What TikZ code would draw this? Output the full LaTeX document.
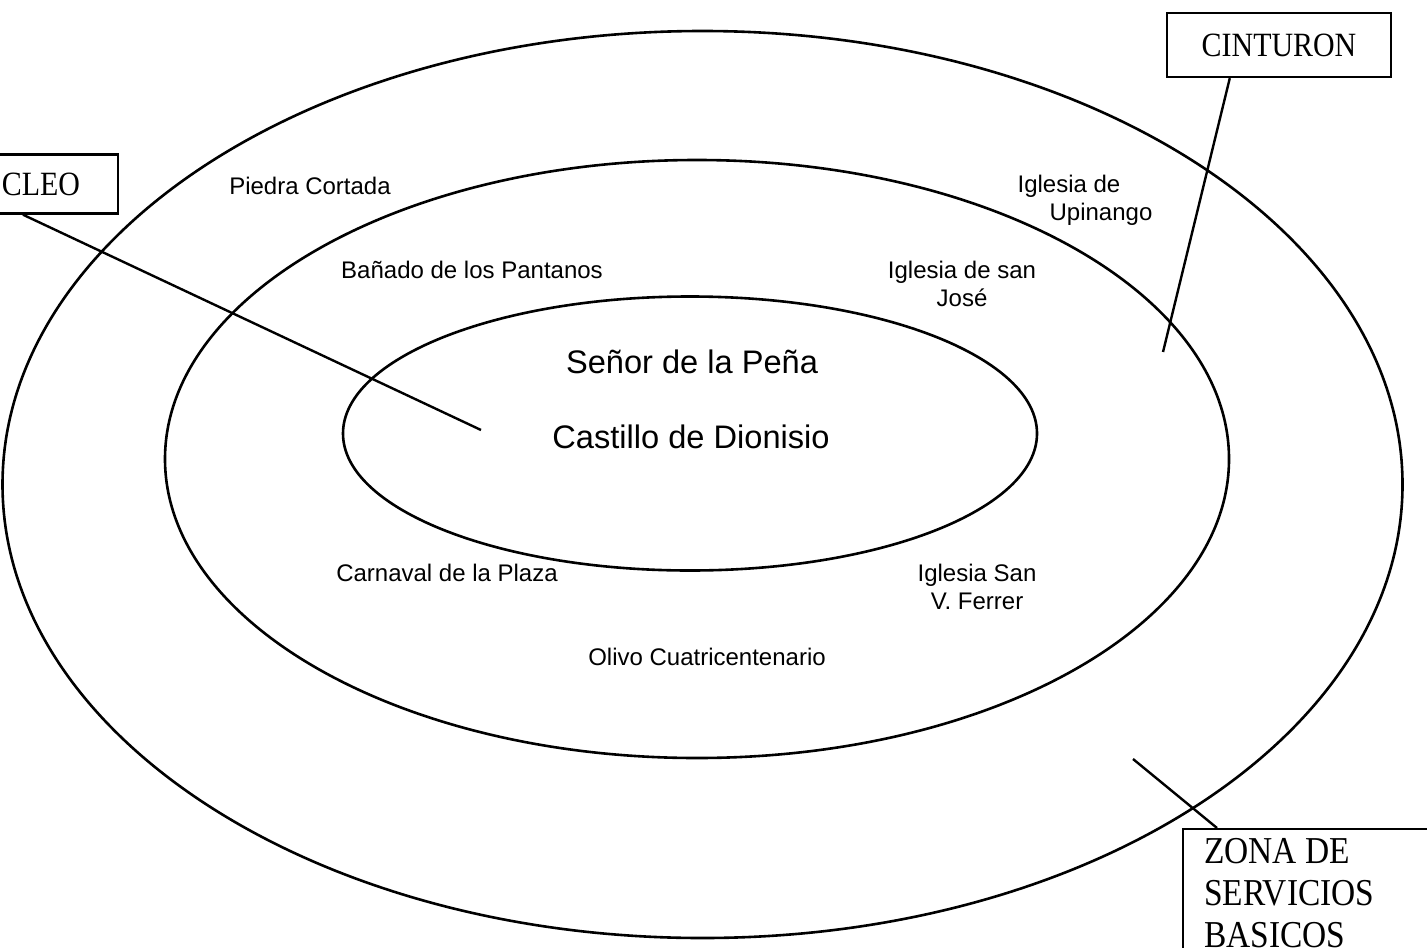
\documentclass[tikz,border=0pt]{standalone}
\usepackage{fontspec}
\setmainfont{Liberation Sans}
\newfontfamily\cajafont[FakeStretch=0.88]{Liberation Serif}
\usetikzlibrary{calc}

\tikzset{
  anillo/.style={line width=1.3pt},
  guia/.style={line width=1.2pt},
  caja/.style={draw, line width=1.2pt, font=\cajafont\fontsize{17}{21}\selectfont},
  lugar/.style={font=\fontsize{12}{14}\selectfont, align=center},
  centro/.style={font=\fontsize{16.3}{19}\selectfont},
}

\begin{document}
\begin{tikzpicture}[x=0.5pt, y=-0.5pt]

\clip (0,0) rectangle (1427,947);

% Anillos
\draw[anillo] (702.5,484.5) ellipse [x radius=350pt, y radius=226.75pt];
\draw[anillo] (697,459) ellipse [x radius=266pt, y radius=149.5pt];
\draw[anillo] (690,433.5) ellipse [x radius=173.5pt, y radius=68.5pt];

% Nucleo
\node[centro] at (692,362) (pena) {Señor de la Peña};
\node[centro] at (691,437) (castillo) {Castillo de Dionisio};

% Cinturon
\node[lugar] at (472,270) (banado) {Bañado de los Pantanos};
\node[lugar] at (962,284) (sanjose) {Iglesia de san\\José};
\node[lugar] at (447,573) (carnaval) {Carnaval de la Plaza};
\node[lugar] at (977,587) (ferrer) {Iglesia San\\V. Ferrer};

% Zona de servicios
\node[lugar] at (310,186) (piedra) {Piedra Cortada};
\node[lugar, align=left] at (1085,200) (upinango) {Iglesia de\\\hspace*{16pt}Upinango};
\node[lugar] at (707,657) (olivo) {Olivo Cuatricentenario};

% Cajas
\node[caja, text width=57pt, inner xsep=19pt, minimum height=29.5pt, align=right] at (23,184) (nucleo) {CLEO};
\node[caja, minimum width=112pt, minimum height=32pt] at (1279,45) (cinturon) {CINTURON};
\node[caja, anchor=north west, text width=120pt, inner xsep=10.5pt, inner ysep=4.5pt, align=left,
  font=\cajafont\fontsize{19}{21}\selectfont] at (1182,828) (zona) {ZONA\hspace{0.22em}DE\\SERVICIOS\\BASICOS};

% Guias
\coordinate (nucleo-fin) at (481,430);
\coordinate (cinturon-fin) at (1163,352);
\coordinate (zona-fin) at (1133,759);
\draw[guia] (nucleo.south) -- (nucleo-fin);
\draw[guia] (cinturon.214.8) -- (cinturon-fin);
\draw[guia] ($(zona.north west)+(17.5pt,0)$) -- (zona-fin);

\end{tikzpicture}
\end{document}
